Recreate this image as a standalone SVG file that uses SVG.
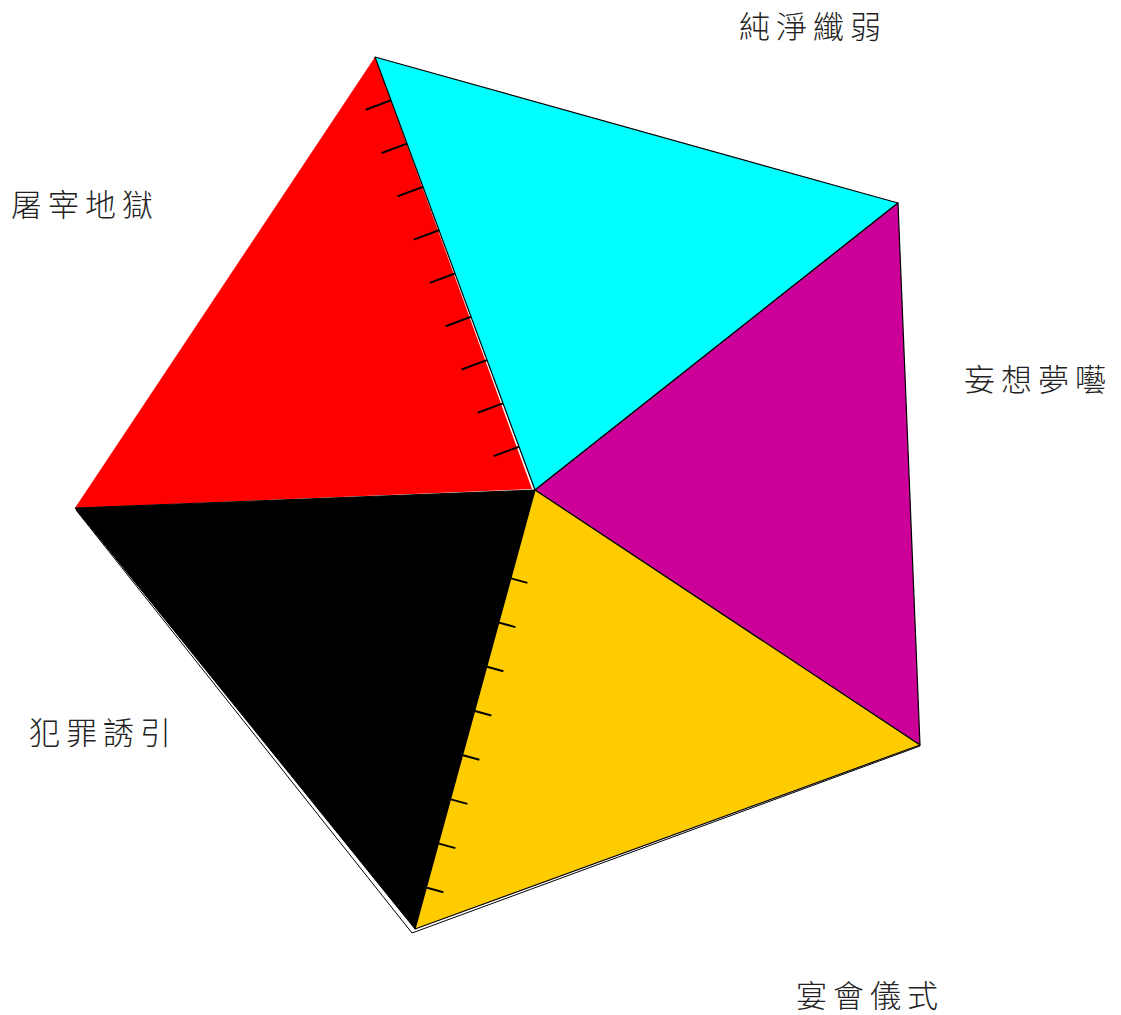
<svg xmlns="http://www.w3.org/2000/svg" width="1121" height="1015" viewBox="0 0 1121 1015">
  <style>
    .lbl { font-family: "Noto Sans CJK TC", "Noto Sans CJK SC", sans-serif; font-size: 31px; font-weight: 300; letter-spacing: 6px; fill: #222; }
    .edge { stroke: #000; stroke-width: 1.2; stroke-linejoin: round; }
    .tick { stroke: #000; stroke-width: 2; stroke-linecap: butt; }
  </style>
  <rect width="1121" height="1015" fill="#fff"/>

  <!-- outer outline around the lower slices -->
  <g id="outline">
    <polyline points="76,510 412,933 920,746" fill="none" stroke="#000" stroke-width="1"/>
  </g>

  <g id="slice-red">
    <polygon points="375,57 532,489 75,508" fill="#ff0000"/>
  </g>
  <g id="slice-black">
    <polygon points="75,508 535,490 415,929" fill="#000" stroke="#000" stroke-width="1"/>
  </g>
  <g id="slice-cyan">
    <polygon class="edge" points="375,57 898,203 535,490" fill="#00ffff"/>
  </g>
  <g id="slice-magenta">
    <polygon class="edge" points="898,203 920,745 535,490" fill="#cc0099"/>
  </g>
  <g id="slice-yellow">
    <polygon class="edge" points="535,490 920,745 415,929" fill="#ffcc00"/>
  </g>

  <g id="connectors">
    <!-- ticks on the red side of the red/cyan edge -->
    <g id="ticks-red">
      <line class="tick" x1="391" y1="100.3" x2="365.7" y2="109.7"/>
      <line class="tick" x1="407" y1="143.6" x2="381.7" y2="153"/>
      <line class="tick" x1="423" y1="186.9" x2="397.7" y2="196.3"/>
      <line class="tick" x1="439" y1="230.2" x2="413.7" y2="239.6"/>
      <line class="tick" x1="455" y1="273.5" x2="429.7" y2="282.9"/>
      <line class="tick" x1="471" y1="316.8" x2="445.7" y2="326.2"/>
      <line class="tick" x1="487" y1="360.1" x2="461.7" y2="369.5"/>
      <line class="tick" x1="503" y1="403.4" x2="477.7" y2="412.8"/>
      <line class="tick" x1="519" y1="446.7" x2="493.7" y2="456.1"/>
    </g>
    <!-- ticks on the yellow side of the black/yellow edge -->
    <g id="ticks-yellow">
      <line class="tick" x1="511" y1="578.4" x2="527.4" y2="582.9"/>
      <line class="tick" x1="499" y1="622.6" x2="515.4" y2="627.1"/>
      <line class="tick" x1="487" y1="666.8" x2="503.4" y2="671.3"/>
      <line class="tick" x1="475" y1="711" x2="491.4" y2="715.5"/>
      <line class="tick" x1="463" y1="755.2" x2="479.4" y2="759.7"/>
      <line class="tick" x1="451" y1="799.4" x2="467.4" y2="803.9"/>
      <line class="tick" x1="439" y1="843.6" x2="455.4" y2="848.1"/>
      <line class="tick" x1="427" y1="887.8" x2="443.4" y2="892.3"/>
    </g>
  </g>

  <g id="labels">
    <text class="lbl" x="739" y="38">純淨纖弱</text>
    <text class="lbl" x="11" y="216">屠宰地獄</text>
    <text class="lbl" x="964" y="391">妄想夢囈</text>
    <text class="lbl" x="29" y="744">犯罪誘引</text>
    <text class="lbl" x="796" y="1007">宴會儀式</text>
  </g>
</svg>
